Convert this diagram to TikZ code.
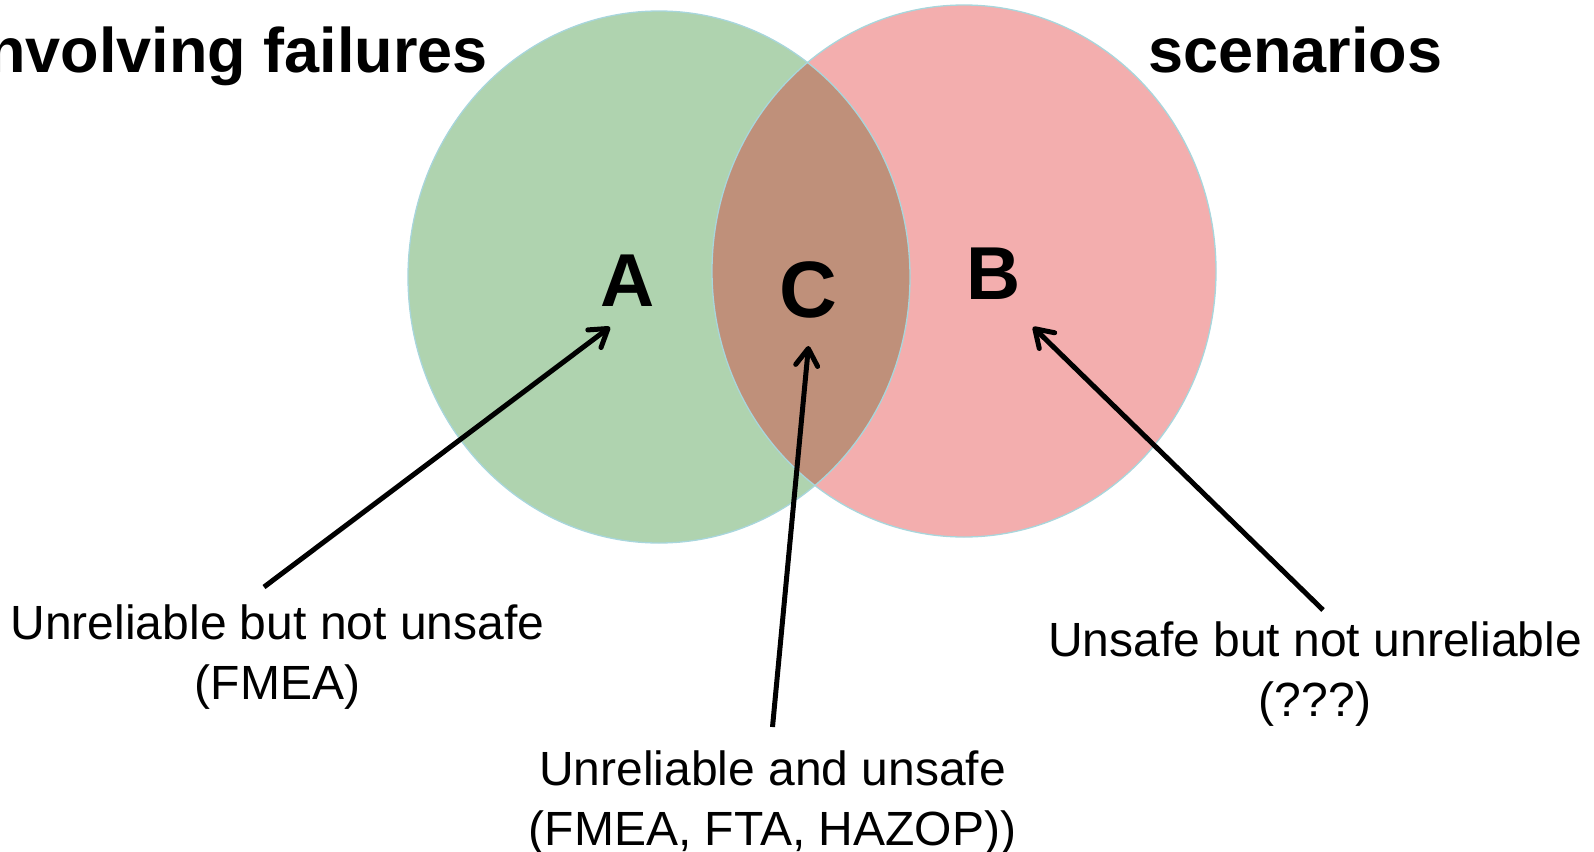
\documentclass[tikz,border=0pt]{standalone}
\usepackage{fontspec}
\setmainfont{Liberation Sans}
\usetikzlibrary{arrows.meta}
\definecolor{setgreen}{HTML}{AFD3AF}
\definecolor{setred}{HTML}{F3AEAE}
\definecolor{setboth}{HTML}{BF907A}
\definecolor{rimblue}{HTML}{A8D6DC}
\begin{document}
\begin{tikzpicture}[x=1pt,y=-1pt,
  heading/.style={font=\fontsize{63}{70}\selectfont\bfseries, inner sep=0pt},
  region/.style={font=\fontsize{75}{80}\selectfont\bfseries, inner sep=0pt, anchor=base},
  caption/.style={font=\fontsize{48}{60}\selectfont, align=center, inner sep=0pt},
  pointer/.style={line width=5pt, -{Straight Barb[length=17pt,width=22pt,line cap=round,round]}},
  rim/.style={draw=rimblue, line width=1.3pt},
]
\useasboundingbox (0,0) rectangle (1594,851);

% the two sets
\fill[setgreen] (659,277) ellipse [x radius=251pt, y radius=266pt];
\fill[setred]   (964,271) ellipse [x radius=252pt, y radius=266pt];
\begin{scope}
  \clip (659,277) ellipse [x radius=251pt, y radius=266pt];
  \fill[setboth] (964,271) ellipse [x radius=252pt, y radius=266pt];
\end{scope}
\draw[rim] (659,277) ellipse [x radius=251pt, y radius=266pt];
\draw[rim] (964,271) ellipse [x radius=252pt, y radius=266pt];

% headings
\node[heading, anchor=base east] (failTitle) at (488,72) {nvolving failures};
\node[heading, anchor=base west] (scenTitle) at (1148,72) {scenarios};

% region letters
\node[region] (A) at (628,306) {A};
\node[region] (B) at (994,299) {B};
\node[region, font=\fontsize{80}{84}\selectfont\bfseries] (C) at (808,317) {C};

% captions
\node[caption] (capA) at (277.5,657) {Unreliable but not unsafe\\(FMEA)};
\node[caption] (capC) at (772.5,803) {Unreliable and unsafe\\(FMEA, FTA, HAZOP))};
\node[caption] (capB) at (1315,674.5) {Unsafe but not unreliable\\(???)};

% arrows from captions to regions
\coordinate (tailA) at (264,587);
\coordinate (tipA) at (610,327);
\coordinate (tailC) at (772.5,727);
\coordinate (tipC) at (808.5,346);
\coordinate (tailB) at (1323,610);
\coordinate (tipB) at (1033,327);
\draw[pointer] (tailA) -- (tipA);
\draw[pointer] (tailC) -- (tipC);
\draw[pointer] (tailB) -- (tipB);
\end{tikzpicture}
\end{document}
